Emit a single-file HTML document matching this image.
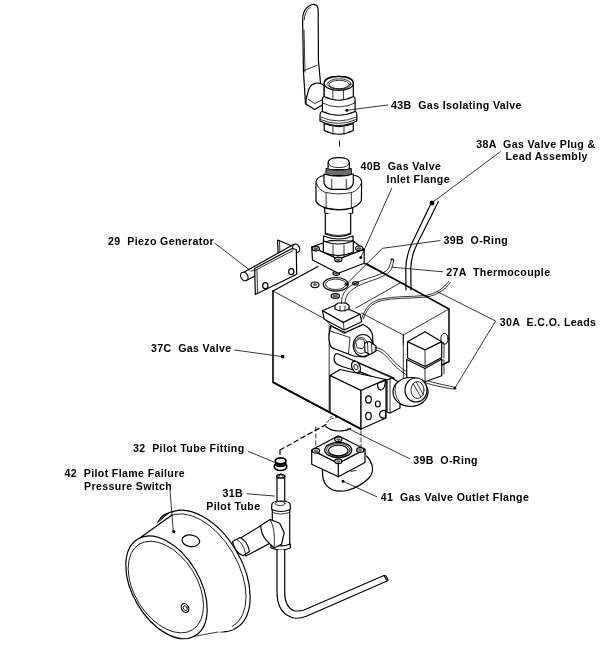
<!DOCTYPE html>
<html><head><meta charset="utf-8"><style>
html,body{margin:0;padding:0;background:#fff;width:600px;height:645px;overflow:hidden}
svg{display:block;will-change:transform}
text{white-space:pre;font-family:"Liberation Sans",sans-serif;font-weight:bold;font-size:10.6px;letter-spacing:0.37px;fill:#000}
.l{fill:none;stroke:#000;stroke-width:1.2;stroke-linecap:round;stroke-linejoin:round}
.t{fill:none;stroke:#000;stroke-width:0.8;stroke-linecap:round;stroke-linejoin:round}
.w{fill:#fff;stroke:#000;stroke-width:1.2;stroke-linecap:round;stroke-linejoin:round}
.d{fill:none;stroke:#000;stroke-width:1;stroke-dasharray:6 4}
</style></head><body>
<svg width="600" height="645" viewBox="0 0 600 645">
<!-- LABELS -->
<g id="labels">
<text x="391.1" y="109.25">43B  Gas Isolating Valve</text>
<text x="476.3" y="148.30">38A  Gas Valve Plug &amp;</text>
<text x="505.6" y="160.40">Lead Assembly</text>
<text x="360.6" y="170.40">40B  Gas Valve</text>
<text x="386.6" y="183.00">Inlet Flange</text>
<text x="108.1" y="244.80">29  Piezo Generator</text>
<text x="443.4" y="243.90">39B  O-Ring</text>
<text x="446.2" y="275.90">27A  Thermocouple</text>
<text x="499.8" y="325.50">30A  E.C.O. Leads</text>
<text x="151.0" y="352.40">37C  Gas Valve</text>
<text x="133.0" y="452.40">32  Pilot Tube Fitting</text>
<text x="64.6" y="476.90">42  Pilot Flame Failure</text>
<text x="84.1" y="489.90">Pressure Switch</text>
<text x="222.4" y="496.80">31B</text>
<text x="206.3" y="510.20">Pilot Tube</text>
<text x="413.2" y="463.60">39B  O-Ring</text>
<text x="380.8" y="500.50">41  Gas Valve Outlet Flange</text>
</g>
<g id="body37">
<!-- main body outline -->
<path class="l" style="stroke-width:1.6" d="M273,291 L273,382.2 L361,429"/>
<path class="l" d="M273,291 L318,266.5"/>
<path class="t" d="M273,291 L325,319"/>
<path class="l" style="stroke-width:1.5" d="M366,263.5 L449,309 L449,361.5 L442,365"/>
<path class="t" d="M449,309 L403.3,335 L361.5,313"/>
<path class="t" d="M400,283 L356,308"/>
<path class="t" d="M403.3,335 L403.3,345"/>
<path class="t" d="M329.2,326 L329.2,412.5"/>
<path class="t" d="M364,263.5 L392,278"/>
<!-- hole on right face -->
<ellipse class="t" style="stroke-width:1" cx="444.5" cy="338.8" rx="3.6" ry="5.5"/>
</g>
<g id="plug38">
<!-- top face items -->
<ellipse class="l" cx="335.8" cy="284.3" rx="12.5" ry="6.8"/>
<ellipse class="t" cx="335.8" cy="284.3" rx="10.3" ry="5.2"/>
<ellipse class="w" cx="315" cy="284.8" rx="4" ry="2.8"/>
<ellipse cx="315" cy="284.5" rx="2" ry="1.3" fill="#555"/>
<ellipse class="w" cx="335.3" cy="296" rx="4.2" ry="2.4"/>
<ellipse cx="335.3" cy="296.3" rx="3" ry="1.5" fill="#666"/>
<ellipse class="w" cx="355.5" cy="283.3" rx="2.8" ry="1.7"/>
<ellipse cx="355.5" cy="283.5" rx="1.8" ry="1" fill="#666"/>
<ellipse class="w" cx="336.3" cy="273.5" rx="3.3" ry="1.8"/>
<ellipse cx="336.3" cy="273.8" rx="2.2" ry="1" fill="#666"/>
<circle cx="346.3" cy="284.2" r="1.7"/>
<!-- plug block -->
<path class="w" d="M322.5,310.8 L337.5,304.2 L360,314.2 L343.3,322.5 Z"/>
<path class="w" d="M322.5,310.8 L324.2,319.2 L344.2,330 L361.7,321.7 L360,314.2 L343.3,322.5 Z"/>
<path class="t" d="M343.3,322.5 L344.2,330"/>
<!-- plug base shadow lines -->
<path class="t" d="M326,320 L330,325 L345,333 L362,325"/>
<!-- nut -->
<path class="w" d="M335,309 L335,305.5 L338,303 L346,303 L349,305.5 L349,309 Q342,313 335,309 Z"/>
<path class="t" d="M340,306 L340,311 M345,306 L345,311"/>
</g>
<g id="wires">
<!-- thermocouple from nut up to hook -->
<path class="t" d="M341.5,303.5 C341.5,293 346.5,287 358,282 C370,277 383,275 388,269 C390,266 390.5,262 391.5,260"/>
<path class="t" d="M345,303.5 C345,295 349.5,290 360,285 C371,280 384,278 390,271 C392.5,268 393,264 393.5,261"/>
<path class="l" d="M391,259.5 Q392.5,258 393.8,260.5"/>
<!-- 38A lead -->
<path class="l" d="M431,203.5 L412,243 Q406,256 405.8,268 L406,290"/>
<path class="l" d="M438.3,201.7 L417.5,243.3 Q411,256 410.8,268 L411,290"/>
<circle cx="432" cy="203" r="2.4"/>
<!-- wire from plug going right -->
<path class="t" d="M362,318 C365,309 369,302 381,299 C394,296 410,297 425,295.5 C436,294 444,288 448.8,281.3"/>
<path class="t" d="M363.3,319 C366.3,310.5 370.3,303.5 381.5,300.6 C394.5,297.6 410.5,298.6 425.5,297.1 C437,295.6 445.5,289.5 450.2,282.5"/>
</g>
<g id="solenoid">
<!-- solenoid housing under plug -->
<path class="w" d="M330,330 Q328.5,334 329,339 L330,345 Q331,348 335,349 L355,356.5 L365,357 Q374,353 373,343 L372.5,335 Q371,328 363,324.5 L345,332.5 L331,326 Z"/>
<path class="t" d="M330,331 L350,337.5 L348.5,353.5"/>
<path class="t" d="M330,325 L344,333.5 L363,324.5"/>
<!-- coil face -->
<ellipse class="w" cx="363" cy="345.5" rx="9.8" ry="11"/>
<ellipse class="t" cx="361" cy="345.5" rx="6.5" ry="8"/>
<path class="t" d="M356,341.5 L359,338.8 L363.5,339.5 L365.5,344.5 L362.5,348.5 L357.5,348 Z"/>
<path class="w" d="M364.5,343 L369.5,341.5 L376,346 L376,351 L370,354.5 L365,352 Z"/>
<path class="t" d="M367.5,342 L368,353.5 M371.5,343.5 L372,353"/>
<!-- ECO lead from connector -->
<path class="t" d="M375,347.5 C381,348 385,351 390,357 C396,364 403,371 417,377 C431,382.5 444,385 453,386.8"/>
<path class="t" d="M375,350 C380,350.5 384,353.5 389,359.5 C395,366.5 402,373.5 416,379.5 C430,385 443,387.5 453,389"/>
<circle cx="454.8" cy="388" r="1.6"/>
<!-- pipe under solenoid -->
<path class="w" d="M337,353.5 L357,362 L394,378 L394,386 L360,372 L342,366.5 Q334,364 334,359 Q334,354 337,353.5 Z"/>
<ellipse class="w" cx="356" cy="367" rx="4" ry="6.2" transform="rotate(-25 356 367)"/>
<ellipse class="t" cx="356" cy="367" rx="1.8" ry="3" transform="rotate(-25 356 367)"/>
<path class="t" d="M359.5,363.5 L394,379 M358.5,371 L393,385"/>
</g>
<g id="cubes">
<path class="t" d="M403.3,335 L403.3,381"/>
<path class="w" d="M407.5,341.7 L425,331.7 L441.7,341.7 L425,350 Z"/>
<path class="w" d="M407.5,341.7 L407.5,358 L425,366.5 L441.7,357.5 L441.7,341.7 L425,350 Z"/>
<path class="t" d="M425,350 L425,366.5"/>
<path class="w" d="M406.7,359.5 L425,368.5 L441.7,359 L441.7,375.8 L425,381.7 L406.7,377.5 Z"/>
<path class="t" d="M425,368.5 L425,381.7"/>
<path class="t" d="M441.7,342 L444,343 L444,358 M441.7,360 L444,360 L444,374"/>
</g>
<g id="lowerblock">
<!-- top face -->
<path class="w" d="M330,375.5 L340,369.5 L386,379.5 L361,390.5 Z"/>
<!-- -Y face -->
<path class="w" d="M330,375.5 L361,390.5 L361,429 L330,412.5 Z"/>
<!-- +X face with notches -->
<path class="w" d="M361,390.5 L386,379.5 L386,418 L361,429 Z"/>
<path class="w" d="M377.5,383.5 Q377.5,390.5 381.5,390 Q385,389 385.5,380.5 Z"/>
<path class="w" d="M385.5,410.5 Q380,410 379.5,414.5 Q380,419 385.5,418 Z"/>
<ellipse class="l" cx="368.5" cy="399.5" rx="2.8" ry="3.6"/>
<ellipse class="l" cx="377.8" cy="404" rx="2.4" ry="3"/>
<ellipse class="l" cx="368.5" cy="416" rx="2.8" ry="3.6"/>
<path class="l" style="stroke-width:1.6" d="M273,382.2 L361,429"/>
<!-- middle part behind -->
<path class="w" d="M387,380 L392,378 L400,383 L400,408 L390,413 L387,412 Z"/>
<path class="t" d="M390,379 L390,413"/>
<!-- round fitting -->
<ellipse class="w" cx="410.5" cy="392" rx="17.5" ry="14.5"/>
<path class="t" d="M395.5,385 Q393.5,395 399.5,402"/>
<ellipse class="w" cx="416" cy="390" rx="11" ry="12"/>
<ellipse class="t" cx="417.5" cy="390" rx="6.5" ry="8.5"/>
<path class="t" d="M413.5,384 L420.5,396.5 M416.5,382.5 L423.5,395"/>
</g>
<g id="oring_lower">
<path class="l" d="M325.8,426.5 Q331,431 338.3,431 Q346,431 350.5,428.5"/>
<path class="t" d="M326.7,422.5 Q330,418.5 336.7,417.5" stroke-dasharray="3 2"/>
<path class="t" d="M330,417.5 L332,416.5 M336,416.5 L338.5,416.5"/>
<path class="l" d="M280,450 L284,447.8 M287,446.2 L291,444 M294,442.2 L298,440 M301,438.3 L305,436.1 M308,434.4 L312,432.2 M315,430.6 L319,428.4 M322,426.8 L326,424.6"/>
<path class="l" d="M280,450.5 L280,454.5"/>
<path class="t" d="M315.8,427 L315.8,431 M315.8,434 L315.8,438 M315.8,441 L315.8,445"/>
<path class="t" d="M361,431 L361,435 M361,438 L361,442 M361,444.5 L361,447"/>

</g>
<g id="outlet41">
<!-- elbow -->
<path class="w" d="M322.5,466 L322.5,474 Q323,486 333,490 Q339,492 347,490.5 Q360,487 369,478 Q374,472 372,465 Q370,459 366.5,456"/>
<path class="t" d="M351,471.5 L356,470.5"/>
<!-- block sides -->
<path class="w" d="M311.7,450 L338.3,463.3 L365,449.2 L365,462.5 L338.3,476.7 L311.7,464.2 Z"/>
<path class="l" d="M338.3,463.3 L338.3,476.7"/>
<!-- top face -->
<path class="w" d="M311.7,450 L338.3,435.8 L365,449.2 L338.3,463.3 Z"/>
<ellipse class="l" cx="338.3" cy="450" rx="13.5" ry="7.6"/>
<ellipse class="t" cx="338.3" cy="450" rx="11.8" ry="6.4"/>
<ellipse class="l" cx="338.3" cy="450.5" rx="9.8" ry="5.3"/>
<ellipse class="w" cx="316" cy="450.8" rx="3.6" ry="2.4"/>
<ellipse cx="316" cy="451.0" rx="2.2" ry="1.3" fill="#666"/>
<ellipse class="w" cx="338.3" cy="439.3" rx="3.6" ry="2.4"/>
<ellipse cx="338.3" cy="439.5" rx="2.2" ry="1.3" fill="#666"/>
<ellipse class="w" cx="360.3" cy="450" rx="3.6" ry="2.4"/>
<ellipse cx="360.3" cy="450.2" rx="2.2" ry="1.3" fill="#666"/>
<ellipse class="w" cx="338.3" cy="461.3" rx="3.6" ry="2.4"/>
<ellipse cx="338.3" cy="461.5" rx="2.2" ry="1.3" fill="#666"/>

<circle cx="343" cy="481.3" r="1.5"/>
</g>
<g id="switch42">
<!-- back bump -->
<path class="w" d="M157,526 Q159,515 171,512 L182,514 L166,530 Z"/>
<!-- back rim -->
<ellipse class="w" cx="202" cy="571" rx="66.5" ry="39.8" transform="rotate(-120.6 202 571)"/>
<ellipse class="t" cx="200.5" cy="571.5" rx="63.5" ry="37.3" transform="rotate(-120.6 200.5 571.5)"/>
<!-- body side -->
<path d="M139.8,537.9 L170.4,512.6 L233.7,629.4 L193.3,636.6 Z" fill="#fff"/>
<path class="l" d="M139.8,537.9 L172,515"/>
<path class="t" d="M193,636.6 L218,632"/>
<!-- front face -->
<ellipse class="w" cx="166.5" cy="587.3" rx="56.2" ry="33.6" transform="rotate(-120.6 166.5 587.3)"/>
<ellipse class="t" cx="165.8" cy="587" rx="50.5" ry="31.3" transform="rotate(-122.1 165.8 587)"/>
<!-- holes -->
<ellipse class="l" cx="190.8" cy="540.8" rx="8.9" ry="5.8" transform="rotate(8 190.8 540.8)"/>
<ellipse class="l" cx="185" cy="608" rx="3.5" ry="4.6" transform="rotate(-30 185 608)"/>
<ellipse class="t" cx="185.3" cy="608.2" rx="1.8" ry="2.6" transform="rotate(-30 185.3 608.2)"/>
<circle cx="173.8" cy="531.5" r="1.5"/>
</g>
<g id="tube31">
<!-- pilot tube fitting (32) -->
<ellipse cx="280.5" cy="466.5" rx="6.3" ry="4" fill="#fff" stroke="#000" stroke-width="1.6"/>
<path d="M275.5,461 L275.5,465 Q280.5,468.5 285.8,465 L285.8,461 Z" fill="#222" stroke="#000" stroke-width="1.2"/>
<ellipse cx="280.6" cy="460.8" rx="5.3" ry="3" fill="#fff" stroke="#000" stroke-width="1.7"/>
<ellipse cx="280.2" cy="464.5" rx="1.8" ry="1.2" fill="#000"/>
<!-- upper tube -->
<path class="w" d="M277,476 L277,503 L284.7,503 L284.7,476 Z"/>
<ellipse cx="280.8" cy="476.3" rx="4" ry="1.8" fill="#fff" stroke="#000" stroke-width="1.5"/>
<path d="M278.5,477 L280.8,473.5 L283,477" fill="none" stroke="#000" stroke-width="0.8"/>
<!-- T body -->
<path class="w" d="M272.3,507 L272.3,546 L289.7,546 L289.7,507 Z"/>
<path class="w" d="M271.7,505 Q271.7,501 281,501 Q290.3,501 290.3,505 L290.3,509.5 Q281,513.5 271.7,509.5 Z"/>
<ellipse class="t" cx="280" cy="503.5" rx="5" ry="2"/>
<path class="t" d="M272.3,512.3 Q281,516 289.7,512.3"/>
<path class="w" d="M271,544 Q281,548 290.3,544 L290.3,548 Q281,552 271,548 Z"/>
<!-- horizontal branch -->
<path class="w" d="M239,539 L266,522.5 L276,540 L246,556 Z"/>
<path class="w" d="M260.7,525.4 L270.2,519.5 L279.7,523.3 L284.2,532.8 L281.6,544.2 L274,548 L266.4,540.4 Q261,534 260.7,525.4 Z"/>
<path class="t" d="M270.2,519.5 Q276,530 274,548"/>
<path class="w" d="M232.5,541.5 L240,537.5 Q247.5,541 249.5,551.5 L243,555.8 Q235,553 232.5,541.5 Z"/>
<path class="t" d="M236.5,539.5 Q244,543 245.5,554"/>
<!-- lower tube -->
<path class="w" d="M277,549.7 L277,592 Q277,614 294,618 Q299,619 307,616 L387,581 L384,575.5 L304,610 Q299,611.5 294,610.8 Q284.7,607 284.7,592 L284.7,549.7"/>
<path class="l" d="M384,575.5 Q386,574.5 388,580.5"/>
</g>
<g id="inlet40">
<path class="d" d="M339.5,140.5 L339.5,150"/>
<!-- cap -->
<path class="w" d="M328.1,169.5 L328.1,162.6 Q328.1,157.6 338.7,157.6 Q349.3,157.6 349.3,162.6 L349.3,169.5 Z"/>
<path class="t" d="M328.3,163 Q329,167.6 338.7,167.6 Q348.5,167.6 349.1,163"/>
<!-- threads -->
<path d="M326,168.5 Q338.7,172 351.3,168.5 L351.3,174.5 Q338.7,178 326,174.5 Z" fill="#8a8a8a" stroke="#000" stroke-width="1"/>
<path d="M327,170.5 Q338.7,174 350.3,170.5 M327,172.5 Q338.7,176 350.3,172.5" fill="none" stroke="#333" stroke-width="0.7"/>
<!-- big hex nut -->
<path class="w" d="M316,181.5 Q317.5,176.5 324,175.5 L355,175.5 Q360.5,176.5 361.6,181.5 L361.4,200.5 C358,207 349,209.5 339.2,209.5 C329,209.5 319.5,207 316,201.4 Z"/>
<path class="t" d="M316.4,183.5 Q319,190 325,192.3 Q339.2,195.5 352.3,192.3 Q358.5,190 361.3,183.5"/>
<path class="t" d="M326.1,193.3 L326.1,207 M351.3,193.3 L351.3,207"/>
<!-- small hex -->
<path class="w" d="M324,174 L324,183 Q326,188.5 331.7,189.3 L346.3,189.3 Q352,188.5 353.3,183 L353.3,174 Q338.7,178.5 324,174 Z"/>
<path class="t" d="M331.7,179.5 L331.7,189.3 M346.3,179.5 L346.3,189.3"/>
<!-- neck ring -->
<path class="w" d="M324.7,208 Q339,212 352.7,208 L352.7,213 Q339,218 324.7,213 Z"/>
<!-- pipe -->
<path class="w" d="M325.3,214 L325.3,234 Q339,239 350.7,234 L350.7,214"/>
<path class="t" d="M325.3,233 Q339,238 350.7,233"/>
<!-- lower ring -->
<path class="w" d="M323.5,236 Q339,242 353,236 L353,241 Q339,246 323.5,241 Z"/>
<!-- flange plate -->
<path class="w" d="M311.7,247 L330,240.5 L353,241 L364.2,249.2 L338.3,259.2 Z"/>
<path class="w" d="M311.7,247 L312.5,260 L338.3,273.3 L364.2,263.3 L364.2,249.2 L338.3,259.2 Z"/>
<!-- lower hex on plate -->
<path class="w" d="M323.3,241 L323.3,252 Q338,259 353.3,252 L353.3,241 Q338,247 323.3,241 Z"/>
<path class="t" d="M333,245 L333,256 M344,245 L344,256"/>
<ellipse class="w" cx="315.8" cy="248.6" rx="3.6" ry="2.3"/>
<ellipse cx="315.8" cy="248.79999999999998" rx="2.3" ry="1.3" fill="#555"/>
<ellipse class="w" cx="359.2" cy="248.3" rx="3.6" ry="2.3"/>
<ellipse cx="359.2" cy="248.5" rx="2.3" ry="1.3" fill="#555"/>
<ellipse class="w" cx="338.3" cy="259.5" rx="3.6" ry="2.3"/>
<ellipse cx="338.3" cy="259.7" rx="2.3" ry="1.3" fill="#555"/>

<circle cx="360.8" cy="257.5" r="1.5"/>
</g>
<g id="piezo29">
<!-- back tab -->
<path class="w" d="M277.5,240 L294.5,247 L294.5,262 L278.5,259 Z"/>
<path class="t" d="M279.5,241 L280,258"/>
<!-- rod -->
<path class="w" d="M242.5,273 L293.5,244.5 L298.5,251.5 L247.5,280 Z"/>
<ellipse class="w" cx="296.2" cy="248.2" rx="3.2" ry="4.4" transform="rotate(-30 296.2 248.2)"/>
<ellipse class="w" cx="244.3" cy="276.5" rx="3.4" ry="4.5" transform="rotate(-30 244.3 276.5)"/>
<!-- front plate -->
<path class="w" d="M254.7,268.5 L292,248.5 L296.3,249.5 L296.7,274.3 L255.3,294.5 Z"/>
<path class="t" d="M255,270.5 L293,250.5"/>
<path class="t" d="M257,269.5 L257.5,293"/>
<path class="t" d="M251,271.5 L254.7,269.5"/>
<ellipse class="l" cx="265.3" cy="285.7" rx="2.6" ry="3"/>
<ellipse class="l" cx="291.3" cy="271.7" rx="2.6" ry="3"/>
</g>
<g id="valve43">
<!-- handle lever -->
<path class="l" d="M305.5,104 L303.5,72 L302.6,20 Q302.5,10 309,6 Q313,3.5 316,5 Q318.5,6.5 318.2,12 L318.4,60 L320.5,83"/>
<path class="t" d="M304.2,20 Q304.5,11 310,7.5 M304,30 L305,72"/>
<path class="t" d="M303.3,70.7 L317.3,65.3"/>
<!-- knob -->
<path class="w" d="M306,99.5 L307.8,93 Q309,85 315,83.3 Q321,82 324.2,86 L324.2,104 L314.5,109.5 L306,104 Z"/>
<path class="t" d="M307.8,99 L314.5,103.5 L322,100"/>
<!-- socket hex top -->
<path class="w" d="M324.2,83.4 Q324.2,76.4 338.8,76.4 Q353.3,76.4 353.3,83.4 L353.3,100 Q353.3,103 338.8,103 Q324.2,103 324.2,100 Z"/>
<ellipse class="l" cx="338.8" cy="83.4" rx="14.6" ry="7"/>
<ellipse class="t" cx="339.3" cy="84" rx="11.7" ry="5.2"/>
<ellipse class="t" cx="339.3" cy="84.5" rx="10" ry="4.2"/>
<path class="t" d="M332.9,90.4 L332.9,101.5 M343.4,90.4 L343.4,101.5"/>
<!-- upper collar + body -->
<path class="w" d="M322.4,99 Q322.4,97 324.2,96.5 Q338.8,104 353.3,96.5 Q355.1,97 355.1,99 L355.1,113 Q338.8,120 322.4,113 Z"/>
<path class="t" d="M322.4,103 Q338.8,111 355.1,103"/>
<!-- lower collar -->
<path class="w" d="M320,115.5 Q320,111.5 322.4,111.5 Q338.8,119 355.1,111.5 Q356.8,111.5 356.8,115.5 L356.8,121 Q338.8,130 320,121 Z"/>
<path class="t" d="M320.5,117 Q338.8,125 356.3,117 M320.5,119.5 Q338.8,127.5 356.3,119.5"/>
<!-- lower hex -->
<path class="w" d="M324.2,123.5 Q338.8,130 353.3,123.5 L353.3,130.5 Q338.8,138 324.2,130.5 Z"/>
<path class="t" d="M332.9,127 L332.9,134.5 M344,127 L344,134.5"/>
<circle cx="346.9" cy="110.3" r="1.5"/>
</g>
<g id="leaders">
<path class="t" d="M346.9,110.3 L387.5,105"/>
<path class="t" d="M433,202 L500.3,151.7"/>
<path class="t" d="M360.8,257.5 L391.7,188.3"/>
<path class="t" d="M346.3,284.2 L382.5,248.3 L440,240.6"/>
<path class="t" d="M392,267.2 L443,271.8"/>
<path class="t" d="M437,291.5 L495.6,321 L455,388"/>
<path class="t" d="M234.7,350 L282.7,356.7"/>
<rect x="281" y="355" width="3.2" height="3.2"/>
<path class="t" d="M215,243.3 L250,270.3"/>
<path class="t" d="M248.3,451.4 L276.2,463"/>
<path class="t" d="M247.2,493.8 L274.4,496"/>
<path class="t" d="M170,490 L173.3,531.7"/>
<path class="t" d="M348,428.5 L409.5,458.6"/>
<path class="t" d="M343,481.3 L376.7,496.7"/>
</g>

</svg>
</body></html>
